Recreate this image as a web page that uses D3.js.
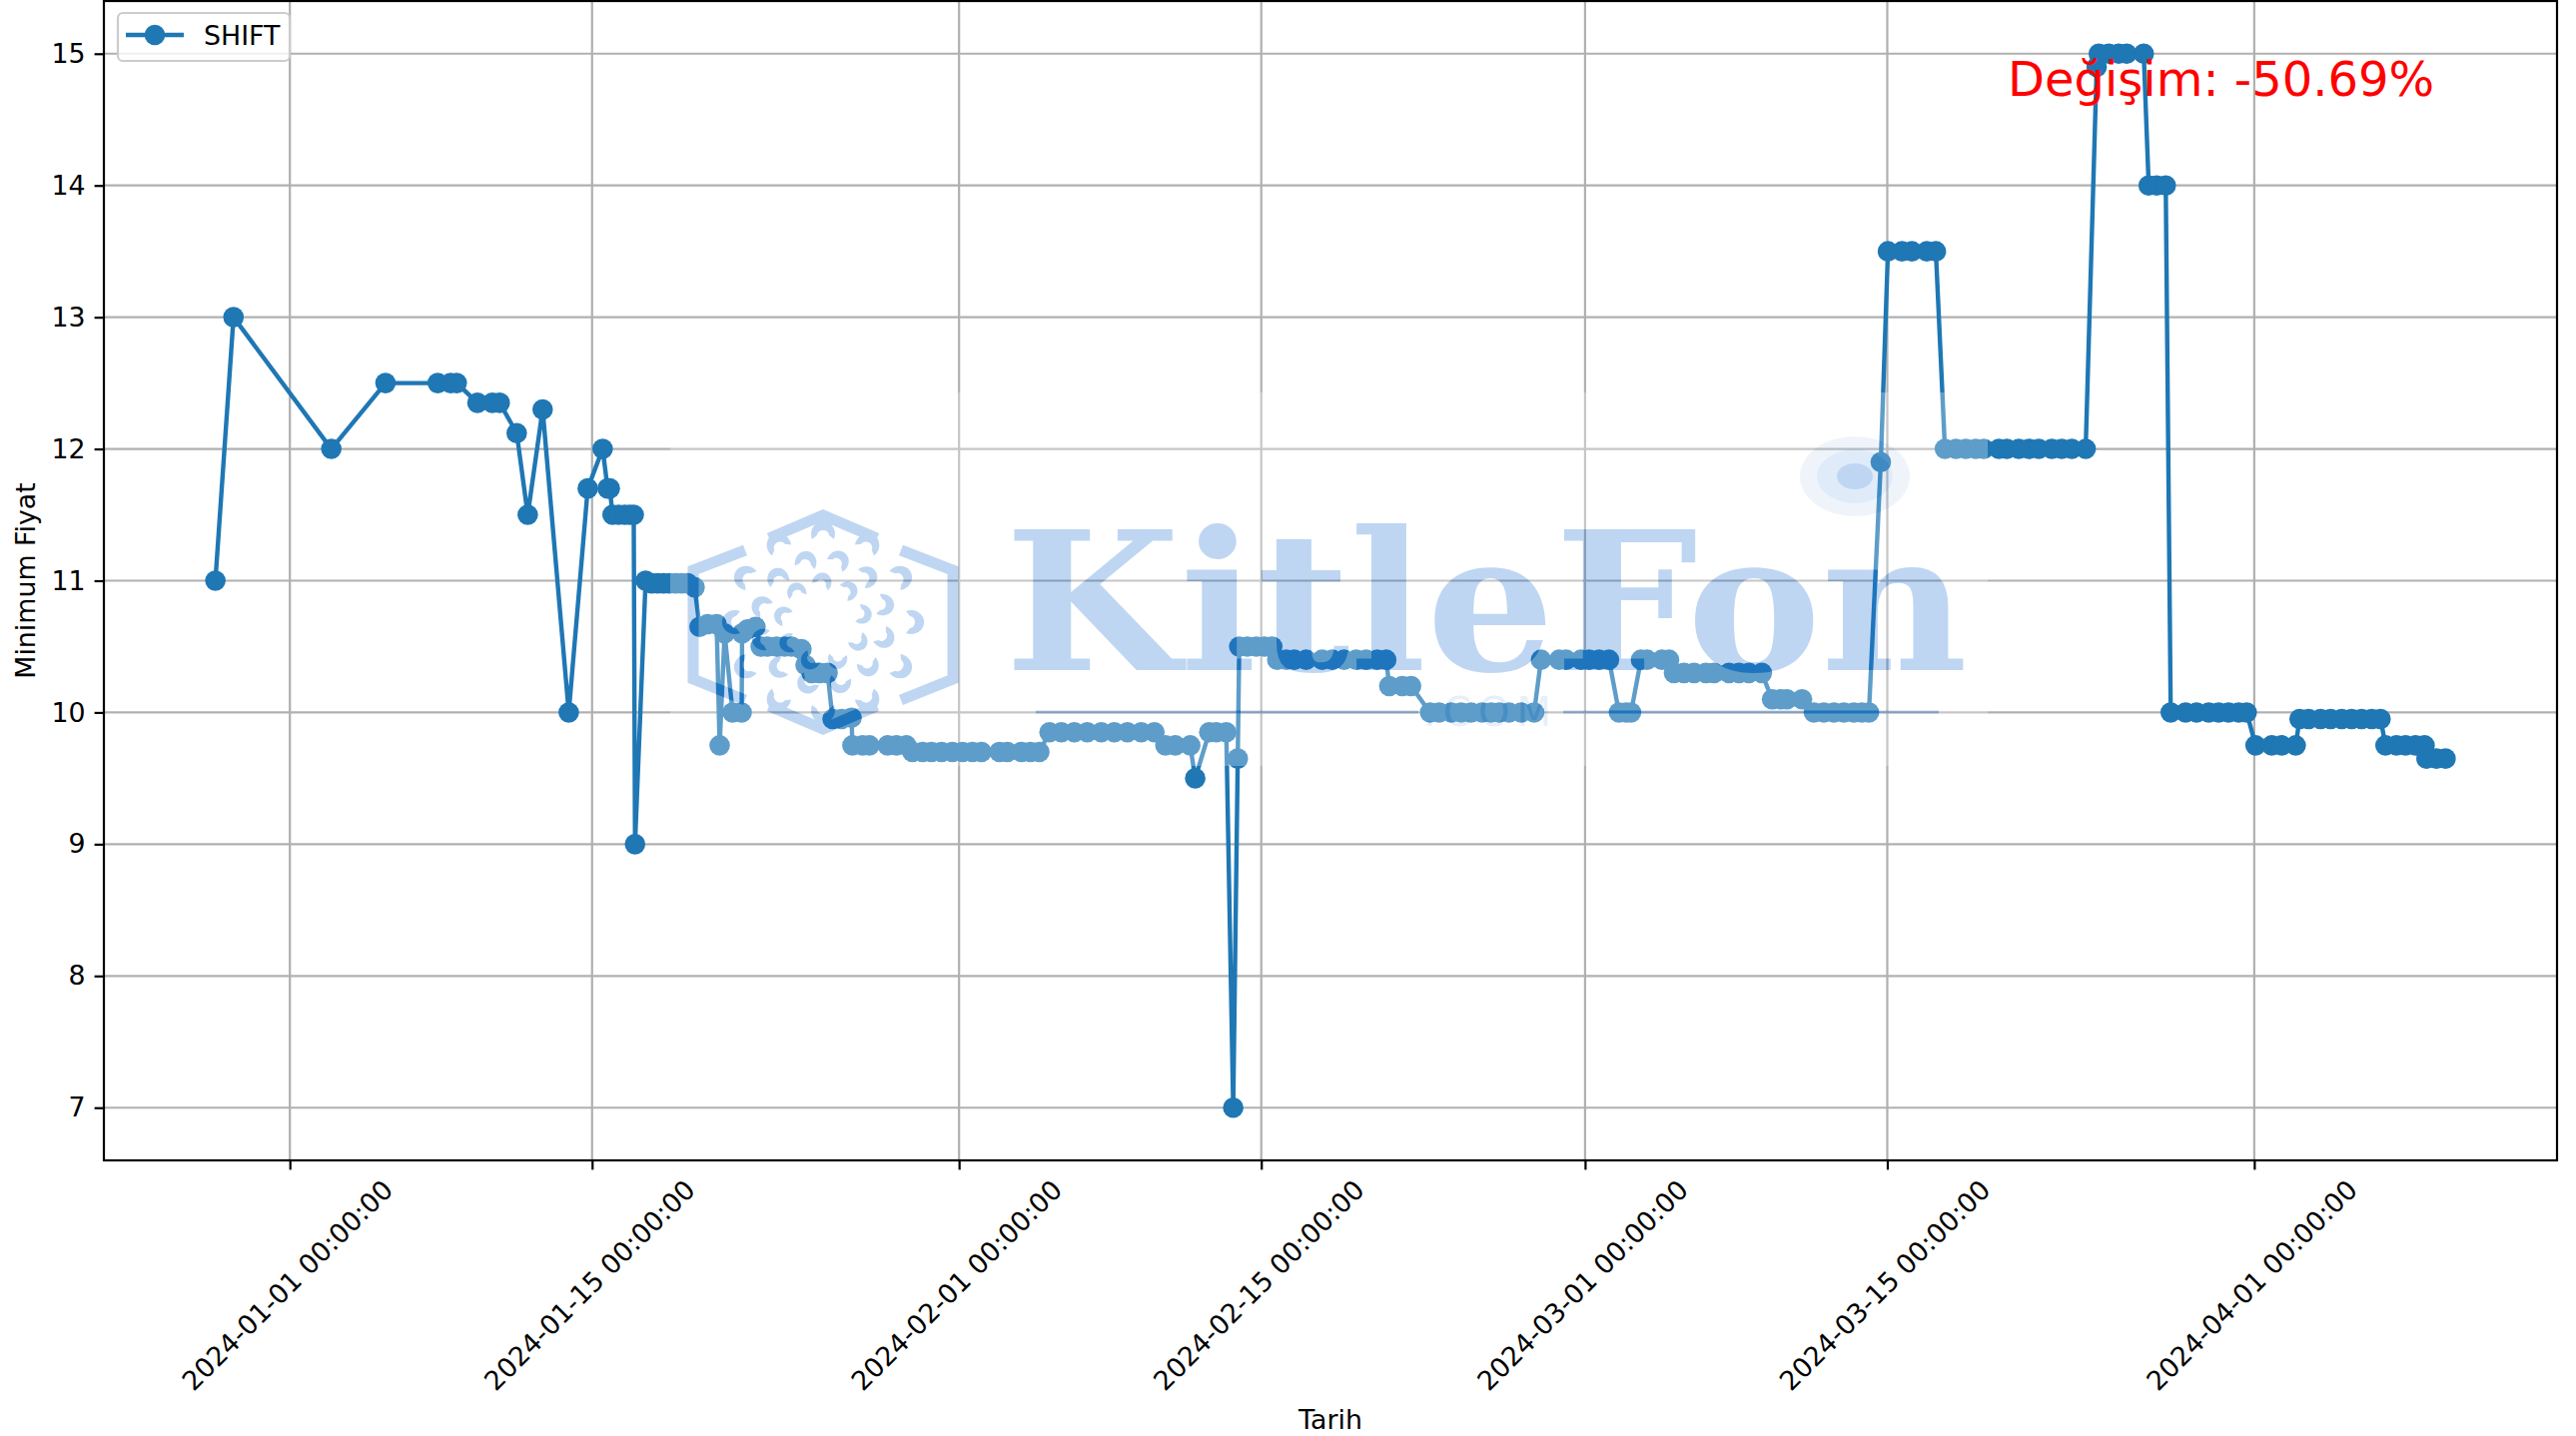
<!DOCTYPE html>
<html>
<head>
<meta charset="utf-8">
<script src="https://cdn.jsdelivr.net/npm/d3@7"></script>
<style>
    html, body { margin: 0; background: #fff; }
    svg { display: block; font-family: "DejaVu Sans", sans-serif; }
</style>
</head>
<body>
<div id="chart"></div>
<script>
// days since 2024-01-01
const days = [
    -3.45, -2.61, 1.92, 4.43, 6.85, 7.45, 7.73, 8.69, 9.38, 9.72, 10.51, 11.02, 11.71, 12.92, 13.8, 14.49, 14.72, 14.82,
    14.95, 15.23, 15.51, 15.74, 15.93, 15.99,
    16.48, 16.76, 17.04, 17.31, 17.59, 17.87, 18.15, 18.43, 18.75,
    18.98, 19.35, 19.77, 19.91, 20.14, 20.51, 20.93, 20.95, 21.2, 21.57,
    21.81, 22.13, 22.55, 22.92, 23.24, 23.7, 23.89, 24.17, 24.54, 24.91,
    25.14, 25.56, 26.02, 26.06, 26.53, 26.85, 27.69, 28.1, 28.56,
    28.84, 29.31, 29.72, 30.19, 30.69, 31.16, 31.62, 32.04, 32.87, 33.24, 33.89, 34.31, 34.72,
    35.19, 35.74, 36.34, 36.94, 37.59, 38.19, 38.8, 39.44, 40.05,
    40.56, 41.02, 41.71, 41.94, 42.59, 42.92, 43.38, 43.7, 43.91,
    43.98, 44.35, 44.77, 45.14, 45.51,
    45.74, 46.16, 46.53, 47.08, 47.82, 48.29, 48.84, 49.4, 49.86, 50.37, 50.79,
    50.93, 51.53, 51.94,
    52.82, 53.24, 53.8, 54.26, 54.72, 55.23, 55.65, 56.02, 56.48, 57.04, 57.64,
    57.96, 58.8, 59.12, 59.81, 60.19, 60.65, 61.11,
    61.57, 61.9, 62.13,
    62.59, 62.87, 63.56, 63.89,
    64.12, 64.58, 65.05, 65.6, 65.97, 66.67, 67.13, 67.59, 68.19,
    68.66, 69.07, 69.35, 70.05,
    70.6, 71.06, 71.53, 71.99, 72.45, 72.82, 73.15,
    73.7,
    74.03, 74.68, 75.14, 75.83, 76.25,
    76.67, 77.18, 77.64, 78.1, 78.47, 79.17, 79.54, 80.09, 80.56, 81.02, 81.62, 82.08, 82.55, 83.19,
    83.7,
    83.8, 84.26, 84.72, 85.09, 85.88,
    86.11, 86.48, 86.9,
    87.13, 87.82, 88.33, 88.89, 89.35, 89.81, 90.28, 90.65,
    91.06, 91.81, 92.27, 92.92,
    93.1, 93.52, 94.07, 94.54, 95.05, 95.51, 95.97, 96.44, 96.85,
    97.08, 97.59, 98.01, 98.47, 98.89,
    98.98, 99.44, 99.86
];

const prices = [
    11, 13, 12, 12.5, 12.5, 12.5, 12.5, 12.35, 12.35, 12.35, 12.12, 11.5, 12.3, 10, 11.7, 12, 11.7, 11.7,
    11.5, 11.5, 11.5, 11.5, 11.5, 9,
    11, 10.98, 10.98, 10.98, 10.98, 10.98, 10.98, 10.98, 10.95,
    10.65, 10.67, 10.67, 9.75, 10.6, 10, 10, 10.6, 10.63, 10.65,
    10.5, 10.5, 10.5, 10.5, 10.5, 10.48, 10.36, 10.3, 10.3, 10.3,
    9.95, 9.95, 9.96, 9.75, 9.75, 9.75, 9.75, 9.75, 9.75,
    9.7, 9.7, 9.7, 9.7, 9.7, 9.7, 9.7, 9.7, 9.7, 9.7, 9.7, 9.7, 9.7,
    9.85, 9.85, 9.85, 9.85, 9.85, 9.85, 9.85, 9.85, 9.85,
    9.75, 9.75, 9.75, 9.5, 9.85, 9.85, 9.85, 7, 9.65,
    10.5, 10.5, 10.5, 10.5, 10.5,
    10.4, 10.4, 10.4, 10.4, 10.4, 10.4, 10.4, 10.4, 10.4, 10.4, 10.4,
    10.2, 10.2, 10.2,
    10, 10, 10, 10, 10, 10, 10, 10, 10, 10, 10,
    10.4, 10.4, 10.4, 10.4, 10.4, 10.4, 10.4,
    10, 10, 10,
    10.4, 10.4, 10.4, 10.4,
    10.3, 10.3, 10.3, 10.3, 10.3, 10.3, 10.3, 10.3, 10.3,
    10.1, 10.1, 10.1, 10.1,
    10, 10, 10, 10, 10, 10, 10,
    11.9,
    13.5, 13.5, 13.5, 13.5, 13.5,
    12, 12, 12, 12, 12, 12, 12, 12, 12, 12, 12, 12, 12, 12,
    14.9,
    15, 15, 15, 15, 15,
    14, 14, 14,
    10, 10, 10, 10, 10, 10, 10, 10,
    9.75, 9.75, 9.75, 9.75,
    9.95, 9.95, 9.95, 9.95, 9.95, 9.95, 9.95, 9.95, 9.95,
    9.75, 9.75, 9.75, 9.75, 9.75,
    9.65, 9.65, 9.65
];

const xTicks = ["2024-01-01", "2024-01-15", "2024-02-01", "2024-02-15", "2024-03-01", "2024-03-15", "2024-04-01"];
const yTicks = [7, 8, 9, 10, 11, 12, 13, 14, 15];

const seriesName = "SHIFT";
const changeLabel = "Değişim: -50.69%";
const xTitle = "Tarih";
const yTitle = "Minimum Fiyat";

// watermark rosette, radius and crescent count per ring
const ringRadii = [42, 65, 92];
const ringCounts = [9, 12, 12];

const width = 2579;
const height = 1438;
const margins = { top: 1, right: 19, bottom: 276, left: 104 };
const fontSize = 26.8;
const blue = "#1f77b4";

const toDate = d => new Date(Date.UTC(2024, 0, 1) + d * 864e5);
const data = days.map((d, i) => ({ date: toDate(d), price: prices[i] }));

const svg = d3.select("#chart")
    .append("svg")
    .attr("width", width)
    .attr("height", height)
    .attr("viewBox", [0, 0, width, height]);

// 5% margins, like the plotting library the chart came from
const xPad = (d3.max(days) - d3.min(days)) * 0.05;
const x = d3.scaleUtc()
    .domain([toDate(d3.min(days) - xPad), toDate(d3.max(days) + xPad)])
    .range([margins.left, width - margins.right]);
const y = d3.scaleLinear()
    .domain([6.6, 15.4])
    .range([height - margins.bottom, margins.top]);

const xTickDates = xTicks.map(d => new Date(d + "T00:00:00Z"));

// grid
svg.append("g")
    .selectAll("line")
    .data(xTickDates)
    .join("line")
    .attr("x1", d => x(d))
    .attr("x2", d => x(d))
    .attr("y1", margins.top)
    .attr("y2", height - margins.bottom)
    .attr("stroke", "#b0b0b0")
    .attr("stroke-width", 2.2);
svg.append("g")
    .selectAll("line")
    .data(yTicks)
    .join("line")
    .attr("x1", margins.left)
    .attr("x2", width - margins.right)
    .attr("y1", d => y(d))
    .attr("y2", d => y(d))
    .attr("stroke", "#b0b0b0")
    .attr("stroke-width", 2.2);

// series
const line = d3.line().x(d => x(d.date)).y(d => y(d.price));
svg.append("path")
    .datum(data)
    .attr("d", line)
    .attr("fill", "none")
    .attr("stroke", blue)
    .attr("stroke-width", 4.4)
    .attr("stroke-linejoin", "round");
svg.append("g")
    .selectAll("circle")
    .data(data)
    .join("circle")
    .attr("cx", d => x(d.date))
    .attr("cy", d => y(d.price))
    .attr("r", 10.3)
    .attr("fill", blue);

// axes
const gx = svg.append("g")
    .attr("transform", `translate(0,${height - margins.bottom})`)
    .call(d3.axisBottom(x).tickValues(xTickDates).tickSize(9.4).tickFormat(d3.utcFormat("%Y-%m-%d %H:%M:%S")));
gx.selectAll("text")
    .attr("y", 0)
    .attr("dy", 0)
    .attr("text-anchor", "middle")
    .attr("dominant-baseline", "central")
    .attr("transform", "translate(-3,125) rotate(-45)");

const gy = svg.append("g")
    .attr("transform", `translate(${margins.left},0)`)
    .call(d3.axisLeft(y).tickValues(yTicks).tickSize(9.4).tickPadding(9));

[gx, gy].forEach(g => {
    g.select(".domain").remove();
    g.selectAll("line").attr("stroke", "#000").attr("stroke-width", 2.2);
    g.selectAll("text").attr("fill", "#000").style("font-size", fontSize + "px").style("font-family", "DejaVu Sans");
});

// watermark sits on top of the series, whole group at low opacity
const logoColor = "#1e70d4";
const mark = svg.append("g").attr("opacity", 0.28);
mark.append("rect")
    .attr("x", 671)
    .attr("y", 393)
    .attr("width", 1319)
    .attr("height", 374)
    .attr("fill", "#fff");

const hex = mark.append("g")
    .attr("transform", "translate(824,623)")
    .attr("fill", "none")
    .attr("stroke", logoColor)
    .attr("stroke-width", 11);
[
    "M-54,-84 L0,-107 L54,-84",
    "M78,-72 L130,-52 L130,57 L78,78",
    "M-54,84 L0,107 L54,84",
    "M-78,-72 L-130,-52 L-130,57 L-78,78"
].forEach(d => hex.append("path").attr("d", d));

ringRadii.forEach((r, k) => {
    d3.range(ringCounts[k]).forEach(i => {
        const a = i * 360 / ringCounts[k] + (k == 1 ? 15 : 0);
        hex.append("path")
            .attr("d", "M-11,9 A12,13 0 1 1 11,9 L6,5 A6,5 0 0 0 -6,5 Z")
            .attr("transform", `rotate(${a}) translate(0,${-r}) rotate(${k == 2 ? 0 : 25}) scale(${0.8 + k * 0.1})`)
            .attr("fill", logoColor)
            .attr("stroke", "none");
    });
});

mark.append("text")
    .text("KitleFon")
    .attr("x", 1006)
    .attr("y", 671)
    .attr("textLength", 964)
    .attr("lengthAdjust", "spacingAndGlyphs")
    .attr("fill", logoColor)
    .style("font-family", "DejaVu Serif")
    .style("font-weight", "bold")
    .style("font-size", "193px");
mark.append("text")
    .text(".COM")
    .attr("x", 1425)
    .attr("y", 727)
    .attr("textLength", 128)
    .attr("fill", logoColor)
    .attr("fill-opacity", 0.4)
    .style("font-size", "40px");
[[1037, 1420], [1565, 1941]].forEach(([a, b]) => {
    mark.append("line")
        .attr("x1", a).attr("x2", b).attr("y1", 713).attr("y2", 713)
        .attr("stroke", logoColor).attr("stroke-width", 3);
});
[[55, 40, 0.25], [38, 27, 0.3], [18, 13, 1]].forEach(([rx, ry, o]) => {
    mark.append("ellipse")
        .attr("cx", 1857).attr("cy", 477).attr("rx", rx).attr("ry", ry)
        .attr("fill", logoColor).attr("fill-opacity", o);
});

// spines
svg.append("rect")
    .attr("x", margins.left)
    .attr("y", margins.top)
    .attr("width", width - margins.left - margins.right)
    .attr("height", height - margins.top - margins.bottom)
    .attr("fill", "none")
    .attr("stroke", "#000")
    .attr("stroke-width", 2.2);

// labels
svg.append("text")
    .text(xTitle)
    .attr("x", (margins.left + width - margins.right) / 2)
    .attr("y", 1431)
    .attr("text-anchor", "middle")
    .style("font-size", fontSize + "px");
svg.append("text")
    .text(yTitle)
    .attr("transform", `translate(35,${(margins.top + height - margins.bottom) / 2}) rotate(-90)`)
    .attr("text-anchor", "middle")
    .style("font-size", fontSize + "px");
svg.append("text")
    .text(changeLabel)
    .attr("x", 2010)
    .attr("y", 96)
    .attr("fill", "red")
    .style("font-size", "48px");

// legend
const legend = svg.append("g");
legend.append("rect")
    .attr("x", 118)
    .attr("y", 13)
    .attr("width", 172)
    .attr("height", 48)
    .attr("rx", 5)
    .attr("fill", "#fff")
    .attr("fill-opacity", 0.8)
    .attr("stroke", "#ccc")
    .attr("stroke-width", 2.2);
legend.append("line")
    .attr("x1", 126)
    .attr("x2", 184)
    .attr("y1", 35)
    .attr("y2", 35)
    .attr("stroke", blue)
    .attr("stroke-width", 4.4);
legend.append("circle")
    .attr("cx", 155)
    .attr("cy", 35)
    .attr("r", 10.3)
    .attr("fill", blue);
legend.append("text")
    .text(seriesName)
    .attr("x", 204)
    .attr("y", 45)
    .style("font-size", fontSize + "px");
</script>
</body>
</html>
